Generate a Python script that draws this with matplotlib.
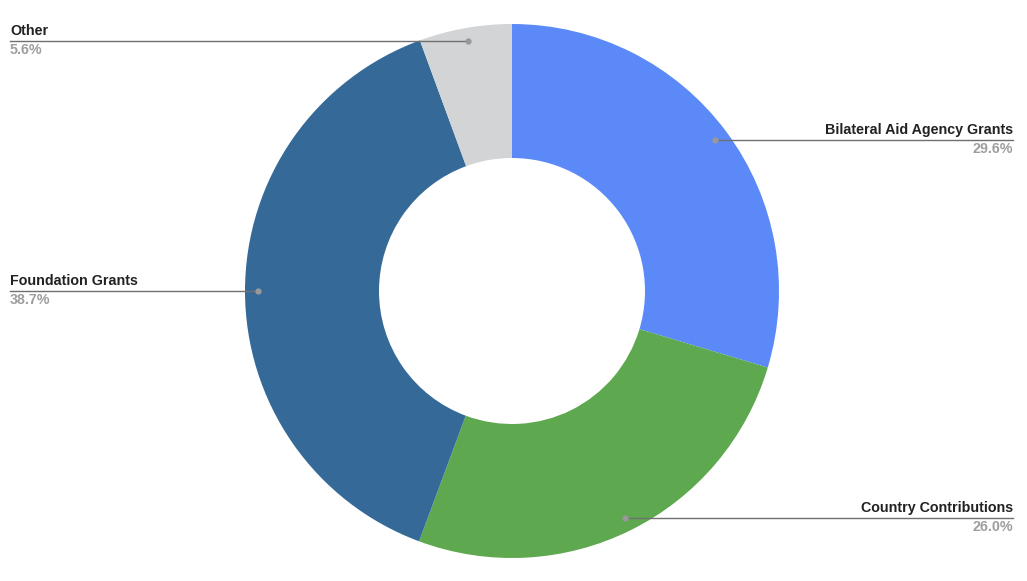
import numpy as np
import matplotlib.pyplot as plt

plt.rcParams['font.family'] = ['Liberation Sans', 'DejaVu Sans']

labels = ["Bilateral Aid Agency Grants", "Country Contributions", "Foundation Grants", "Other"]
shares = [29.6, 26.0, 38.7, 5.6]
colors = ["#5b8af8", "#5ea84f", "#356a98", "#d3d4d6"]

W, H = 1027, 581
cx, cy = 512, H - 291
R, r_in = 267, 133

fig = plt.figure(figsize=(W / 100, H / 100), dpi=100)
ax = fig.add_axes([0, 0, 1, 1])

wedges, _ = ax.pie(shares, colors=colors, startangle=90, counterclock=False,
                   center=(cx, cy), radius=R, frame=True,
                   wedgeprops=dict(width=R - r_in, linewidth=0))
ax.set_xlim(0, W)
ax.set_ylim(0, H)
ax.axis("off")

for w, name, val in zip(wedges, labels, shares):
    ang = np.deg2rad((w.theta1 + w.theta2) / 2)
    px = cx + 0.95 * R * np.cos(ang)
    py = cy + 0.95 * R * np.sin(ang)
    if np.cos(ang) > 0:
        xe, ha = 1013, "right"
    else:
        xe, ha = 10, "left"
    ax.plot([px, xe], [py, py], color="#707070", lw=1, zorder=3)
    ax.plot(px, py, "o", color="#999999", ms=3.5, zorder=4)
    ax.text(xe, py + 3, name, ha=ha, va="bottom", fontsize=10.3,
            fontweight="bold", color="#222222")
    ax.text(xe, py - 2, "{:.1f}%".format(val), ha=ha, va="top", fontsize=10.3,
            fontweight="bold", color="#9e9e9e")

fig.savefig("out.png", dpi=100)
